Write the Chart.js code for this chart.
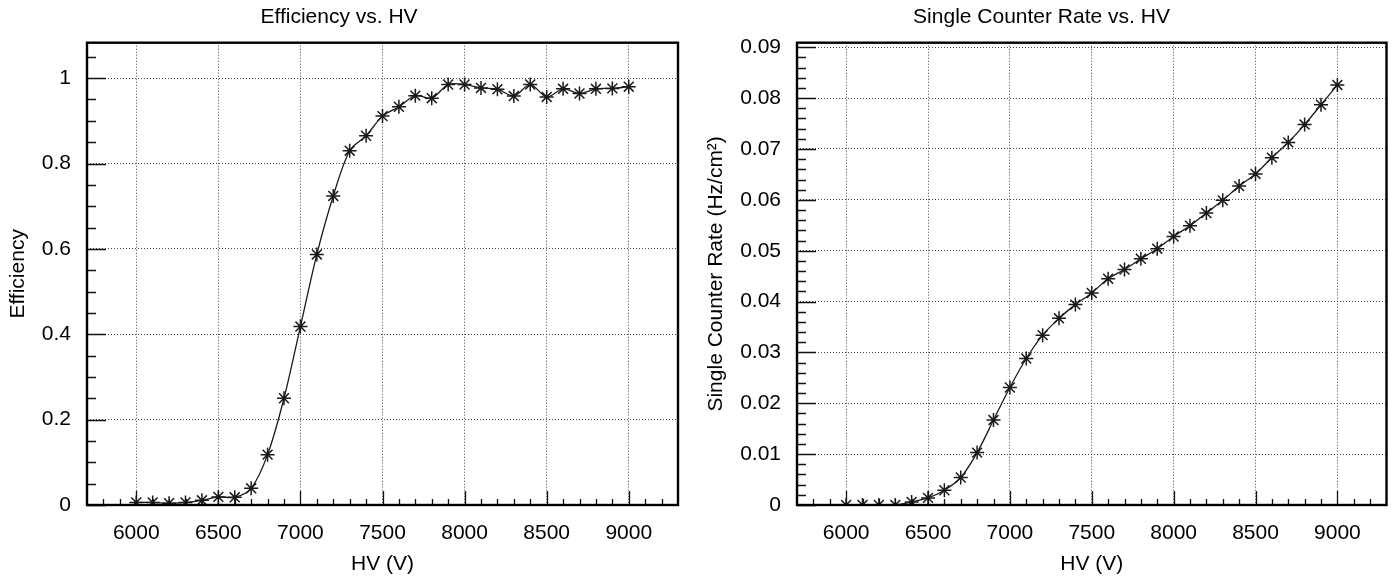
<!DOCTYPE html>
<html>
<head>
<meta charset="utf-8">
<script src="https://cdn.jsdelivr.net/npm/chart.js@4.4.1/dist/chart.umd.min.js"></script>
<style>
  html, body { margin: 0; padding: 0; background: #fff; }
  .pane { position: absolute; top: 0; height: 579px; }
  #leftPane { left: 0; width: 695px; }
  #rightPane { left: 695px; width: 700px; }
</style>
</head>
<body>
<div class="pane" id="leftPane"><canvas id="effChart"></canvas></div>
<div class="pane" id="rightPane"><canvas id="rateChart"></canvas></div>
<script>
const hv = [6000, 6100, 6200, 6300, 6400, 6500, 6600, 6700, 6800, 6900, 7000,
            7100, 7200, 7300, 7400, 7500, 7600, 7700, 7800, 7900, 8000,
            8100, 8200, 8300, 8400, 8500, 8600, 8700, 8800, 8900, 9000];

const efficiency = [0.006, 0.006, 0.004, 0.006, 0.011, 0.019, 0.018, 0.039, 0.118, 0.25, 0.418,
                    0.587, 0.724, 0.83, 0.865, 0.911, 0.933, 0.959, 0.953, 0.985, 0.985,
                    0.977, 0.974, 0.958, 0.985, 0.956, 0.975, 0.964, 0.975, 0.976, 0.98];

const rate = [0, 0, 0, 0, 0.0006, 0.0014, 0.0029, 0.0054, 0.0103, 0.0167, 0.0231,
              0.0288, 0.0334, 0.0367, 0.0394, 0.0417, 0.0445, 0.0463, 0.0484, 0.0504, 0.0528,
              0.0549, 0.0574, 0.0599, 0.0627, 0.0651, 0.0683, 0.0713, 0.0748, 0.0787, 0.0826];

const xTickLabels = [6000, 6500, 7000, 7500, 8000, 8500, 9000];
const effTickLabels = [0, 0.2, 0.4, 0.6, 0.8, 1];
const rateTickLabels = [0, 0.01, 0.02, 0.03, 0.04, 0.05, 0.06, 0.07, 0.08, 0.09];

const fontFamily = '"Liberation Sans", Arial, Helvetica, sans-serif';
const fontSize = 21;

// ROOT style frame with inward ticks
const rootFrame = {
    id: 'rootFrame',
    afterDraw(chart, args, opts) {
        const ctx = chart.ctx;
        const area = chart.chartArea;
        const xs = chart.scales.x;
        const ys = chart.scales.y;
        ctx.save();
        ctx.strokeStyle = '#111';
        ctx.lineWidth = 1.3;
        ctx.beginPath();
        for (let v = opts.xMinorFrom; v <= opts.xMinorTo + 1e-9; v += opts.xMinorStep) {
            const px = Math.round(xs.getPixelForValue(v)) + 0.5;
            const isMajor = Math.abs(v / opts.xMajorStep - Math.round(v / opts.xMajorStep)) < 1e-6;
            const len = isMajor ? 14 : 6;
            ctx.moveTo(px, area.bottom);
            ctx.lineTo(px, area.bottom - len);
        }
        for (let v = 0; v <= opts.yMax + 1e-9; v += opts.yMinorStep) {
            const py = Math.round(ys.getPixelForValue(v)) + 0.5;
            const isMajor = Math.abs(v / opts.yMajorStep - Math.round(v / opts.yMajorStep)) < 1e-6;
            const len = isMajor ? 19 : 9;
            ctx.moveTo(area.left, py);
            ctx.lineTo(area.left + len, py);
        }
        ctx.stroke();
        ctx.lineWidth = 2.4;
        ctx.strokeStyle = '#000';
        ctx.strokeRect(area.left, area.top, area.right - area.left, area.bottom - area.top);
        ctx.restore();
    }
};

function makeChart(canvasId, titleText, yTitle, values, yTicks, yMax, yMinorStep, yMajorStep, yWidth, padRight, yTitlePad) {
    const points = hv.map((h, i) => ({ x: h, y: values[i] }));
    return new Chart(document.getElementById(canvasId), {
        type: 'line',
        data: {
            datasets: [{
                data: points,
                borderColor: '#1a1a1a',
                borderWidth: 1.3,
                tension: 0.3,
                pointStyle: 'star',
                pointRadius: 7,
                pointBorderWidth: 1.5,
                pointBorderColor: '#1a1a1a',
                pointBackgroundColor: '#1a1a1a',
                fill: false
            }]
        },
        options: {
            responsive: true,
            maintainAspectRatio: false,
            animation: false,
            layout: { padding: { left: 0, right: padRight, top: 0, bottom: 0 } },
            plugins: {
                legend: { display: false },
                tooltip: { enabled: false },
                title: {
                    display: true,
                    text: titleText,
                    color: '#000',
                    font: { family: fontFamily, size: fontSize, weight: 'normal' },
                    padding: { top: 5, bottom: 12.5 }
                },
                rootFrame: {
                    xMinorFrom: 5800, xMinorTo: 9200, xMinorStep: 100, xMajorStep: 500,
                    yMax: yMax, yMinorStep: yMinorStep, yMajorStep: yMajorStep
                }
            },
            scales: {
                x: {
                    type: 'linear',
                    min: 5700,
                    max: 9300,
                    afterBuildTicks: s => { s.ticks = xTickLabels.map(v => ({ value: v })); },
                    afterFit: s => { s.height = 74; },
                    grid: { color: '#444', lineWidth: 1, drawTicks: false },
                    border: { display: false, dash: [1, 2] },
                    ticks: {
                        color: '#000',
                        padding: 16,
                        maxRotation: 0,
                        font: { family: fontFamily, size: fontSize },
                        callback: v => String(v)
                    },
                    title: {
                        display: true,
                        text: 'HV (V)',
                        color: '#000',
                        font: { family: fontFamily, size: fontSize },
                        padding: { top: 0, bottom: 2 }
                    }
                },
                y: {
                    type: 'linear',
                    min: 0,
                    max: yMax,
                    afterBuildTicks: s => { s.ticks = yTicks.map(v => ({ value: v })); },
                    afterFit: s => { s.width = yWidth; },
                    grid: { color: '#444', lineWidth: 1, drawTicks: false },
                    border: { display: false, dash: [1, 2] },
                    ticks: {
                        color: '#000',
                        padding: 16,
                        font: { family: fontFamily, size: fontSize },
                        callback: v => String(+v.toFixed(3))
                    },
                    title: {
                        display: true,
                        text: yTitle,
                        color: '#000',
                        font: { family: fontFamily, size: fontSize },
                        padding: { top: yTitlePad, bottom: 0 }
                    }
                }
            }
        },
        plugins: [rootFrame]
    });
}

makeChart('effChart', 'Efficiency vs. HV', 'Efficiency', efficiency, effTickLabels,
          1.083, 0.05, 0.2, 87, 17, 6);
makeChart('rateChart', 'Single Counter Rate vs. HV', 'Single Counter Rate (Hz/cm\u00B2)', rate, rateTickLabels,
          0.0909, 0.002, 0.01, 102, 7, 9);
</script>
</body>
</html>
